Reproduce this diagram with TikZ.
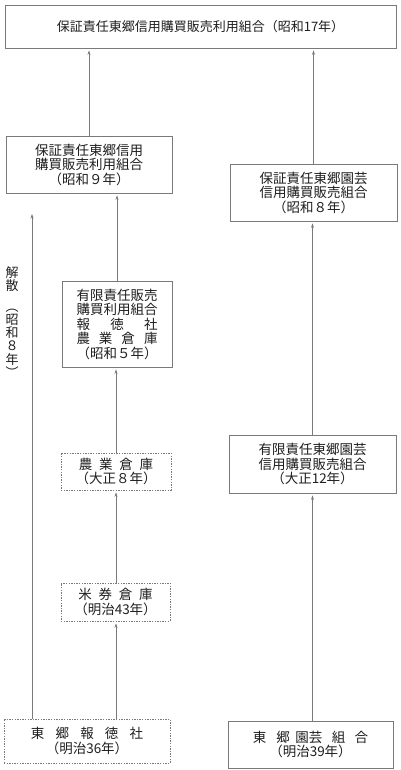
\documentclass[tikz,border=0pt]{standalone}
\usepackage{fontspec}
\setmainfont{Noto Sans CJK JP}
\usetikzlibrary{arrows.meta}
\definecolor{ink}{HTML}{1E1E1E}
\definecolor{edge}{HTML}{7A7A7A}
\tikzset{
  solidbox/.style={draw=edge, line width=0.7pt, inner sep=0pt, align=center, text=ink,
    font=\fontsize{13.5}{14.5}\selectfont},
  dotbox/.style={solidbox, dash pattern=on 1.4pt off 1.2pt, line width=0.6pt},
  arr/.style={draw=edge, line width=0.6pt, -{Stealth[length=4.5pt,width=3pt]}, shorten >=2pt}
}
\begin{document}
\begin{tikzpicture}[x=1pt,y=-1pt]
\useasboundingbox (0,0) rectangle (400,770);
% boxes
\node[solidbox, minimum width=391pt, minimum height=43pt, font=\fontsize{13}{14.5}\selectfont] (top) at (200.5,26.5)
  {保証責任東郷信用購買販売利用組合（昭和17年）};
\node[solidbox, minimum width=166pt, minimum height=57pt] (lbox) at (89,164.5)
  {保証責任東郷信用\\購買販売利用組合\\（昭和９年）};
\node[solidbox, minimum width=167pt, minimum height=57pt] (rbox) at (313.5,192.5)
  {保証責任東郷園芸\\信用購買販売組合\\（昭和８年）};
\node[solidbox, minimum width=110pt, minimum height=86pt] (mid) at (117,324)
  {有限責任販売\\購買利用組合\\\makebox[6em][s]{報\hfill 徳\hfill 社}\\\makebox[6em][s]{農\hfill 業\hfill 倉\hfill 庫}\\（昭和５年）};
\node[dotbox, minimum width=110pt, minimum height=37pt] (nogyo) at (116,471.5)
  {\makebox[5.5em][s]{農\hfill 業\hfill 倉\hfill 庫}\\（大正８年）};
\node[dotbox, minimum width=109pt, minimum height=38pt] (beiken) at (115.5,602)
  {\makebox[5.5em][s]{米\hfill 券\hfill 倉\hfill 庫}\\（明治43年）};
\node[dotbox, minimum width=166pt, minimum height=44pt] (bl) at (87,741)
  {\makebox[8.3em][s]{東\hfill 郷\hfill 報\hfill 徳\hfill 社}\\（明治36年）};
\node[solidbox, minimum width=165pt, minimum height=47pt] (br) at (310.5,744.5)
  {東\hspace{0.75em}郷\hspace{0.4em}園芸\hspace{0.7em}組\hspace{0.7em}合\\（明治39年）};
\node[solidbox, minimum width=167pt, minimum height=58pt] (rm) at (312.5,464)
  {有限責任東郷園芸\\信用購買販売組合\\（大正12年）};
% vertical note
\node[text=ink, align=center, inner sep=0pt, font=\fontsize{13}{13.3}\selectfont] (note) at (12,322)
  {解\\散\\[7pt]︵\\昭\\和\\８\\年\\︶};
\coordinate (dtop) at (32,214);
\coordinate (col) at (116,0);
% connectors
\draw[arr] (lbox.north) -- (lbox.north |- top.south);
\draw[arr] (rbox.north) -- (rbox.north |- top.south);
\draw[arr] (mid.north) -- (mid.north |- lbox.south);
\draw[arr] (col |- nogyo.north) -- (col |- mid.south);
\draw[arr] (col |- beiken.north) -- (col |- nogyo.south);
\draw[arr] (col |- bl.north) -- (col |- beiken.south);
\draw[arr, shorten >=0pt] (dtop |- bl.north) -- (dtop);
\draw[arr] (rm.south |- br.north) -- (rm.south);
\draw[arr] (rm.north) -- (rm.north |- rbox.south);
\end{tikzpicture}
\end{document}
